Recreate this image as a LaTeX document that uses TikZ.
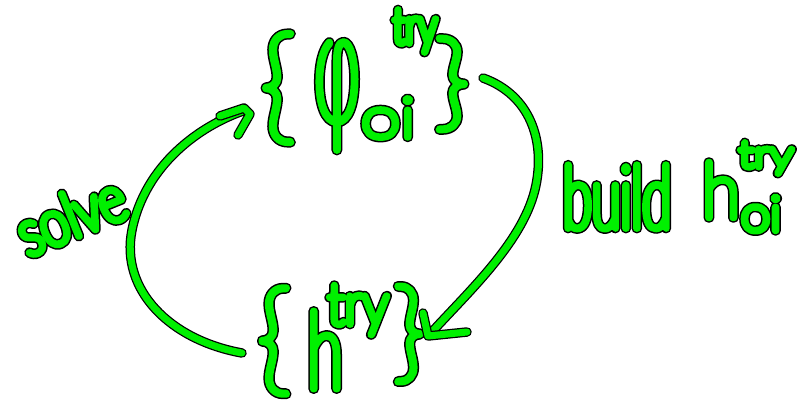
\documentclass[tikz,border=0pt]{standalone}
\usepackage{fontspec}
\usetikzlibrary{calc}
\def\gw{7}\def\kw{10}
\IfFontExistsTF{Lato Hairline}{\newfontfamily\hwf{Lato Hairline}}{%
 \IfFontExistsTF{Fira Sans Hair}{\newfontfamily\hwf{Fira Sans Hair}}{%
  \IfFontExistsTF{Lato Thin}{\newfontfamily\hwf{Lato Thin}}{%
   \IfFontExistsTF{Poppins Thin}{\newfontfamily\hwf{Poppins Thin}}{%
    \newfontfamily\hwf{DejaVu Sans}\def\gw{2}\def\kw{5}}}}}
\definecolor{hgreen}{RGB}{0,240,0}
\newcommand\strk[1]{\special{pdf:literal direct 2 Tr #1 w 1 J 1 j}}
\newcommand\hw[3]{{\fontsize{#1}{#1}\hwf\addfontfeatures{FakeStretch=#2}%
  \rlap{\color{black}\strk{\kw}#3}{\color{hgreen}\strk{\gw}#3}\special{pdf:literal direct 0 Tr 1 w}}}
\tikzset{
  pen/.style={draw=hgreen, line width=7pt, line cap=round, line join=round,
    preaction={draw=black, line width=9.5pt, line cap=round, line join=round}},
  glyph/.style={inner sep=0pt, outer sep=0pt}
}
\begin{document}
\begin{tikzpicture}[x=1pt,y=-1pt]
\fill[white] (0,0) rectangle (797,405);
\useasboundingbox (0,0) rectangle (797,405);
% top set
\node[glyph] (lbrA) at (278,88) {\hw{125}{1}{\{}};
\node[glyph] (phi) at (337,96) {\hw{160}{0.42}{φ}};
\node[glyph] (phisub) at (388,118) {\hw{55}{1.3}{oi}};
\node[glyph] (phisup) at (415,31) {\hw{50}{0.75}{try}};
\node[glyph] (rbrA) at (452,84) {\hw{105}{1.2}{\}}};
% bottom set
\node[glyph] (lbrB) at (274,341) {\hw{122}{1}{\{}};
\node[glyph] (h) at (325,350) {\hw{108}{0.6}{h}};
\node[glyph] (hsup) at (358,310) {\hw{58}{0.9}{try}};
\node[glyph] (rbrB) at (409,334) {\hw{110}{1}{\}}};
% labels
\node[glyph, rotate=22] (solve) at (71,215) {\hw{64}{0.8}{solve}};
\node[glyph] (build) at (617,197) {\hw{88}{0.6}{build}};
\node[glyph] (bh) at (721,190) {\hw{77}{0.9}{h}};
\node[glyph] (bhsub) at (761,214) {\hw{48}{1.1}{oi}};
\node[glyph] (bhsup) at (766,158) {\hw{36}{1.3}{try}};
% connector ends
\coordinate (solveS) at (242,353);
\coordinate (solveE) at (246,110);
\coordinate (buildS) at (483,78);
\coordinate (buildE) at (430,334);
% solve arrow
\draw[pen] (solveS) .. controls (170,340) and (120,290) .. (132,230)
  .. controls (145,165) and (200,125) .. (solveE);
\draw[pen] ($(solveE)+(-26,6)$) -- ($(solveE)+(-2,-2)$) -- ($(solveE)+(4,4)$) -- ($(solveE)+(-8,25)$);
% build arrow
\draw[pen] (buildS) .. controls (530,95) and (545,140) .. (536,185)
  .. controls (525,240) and (470,290) .. (buildE);
\draw[pen] ($(buildE)+(-7,-21)$) -- ($(buildE)+(-2,2)$) -- ($(buildE)+(37,-2)$);
\end{tikzpicture}
\end{document}
